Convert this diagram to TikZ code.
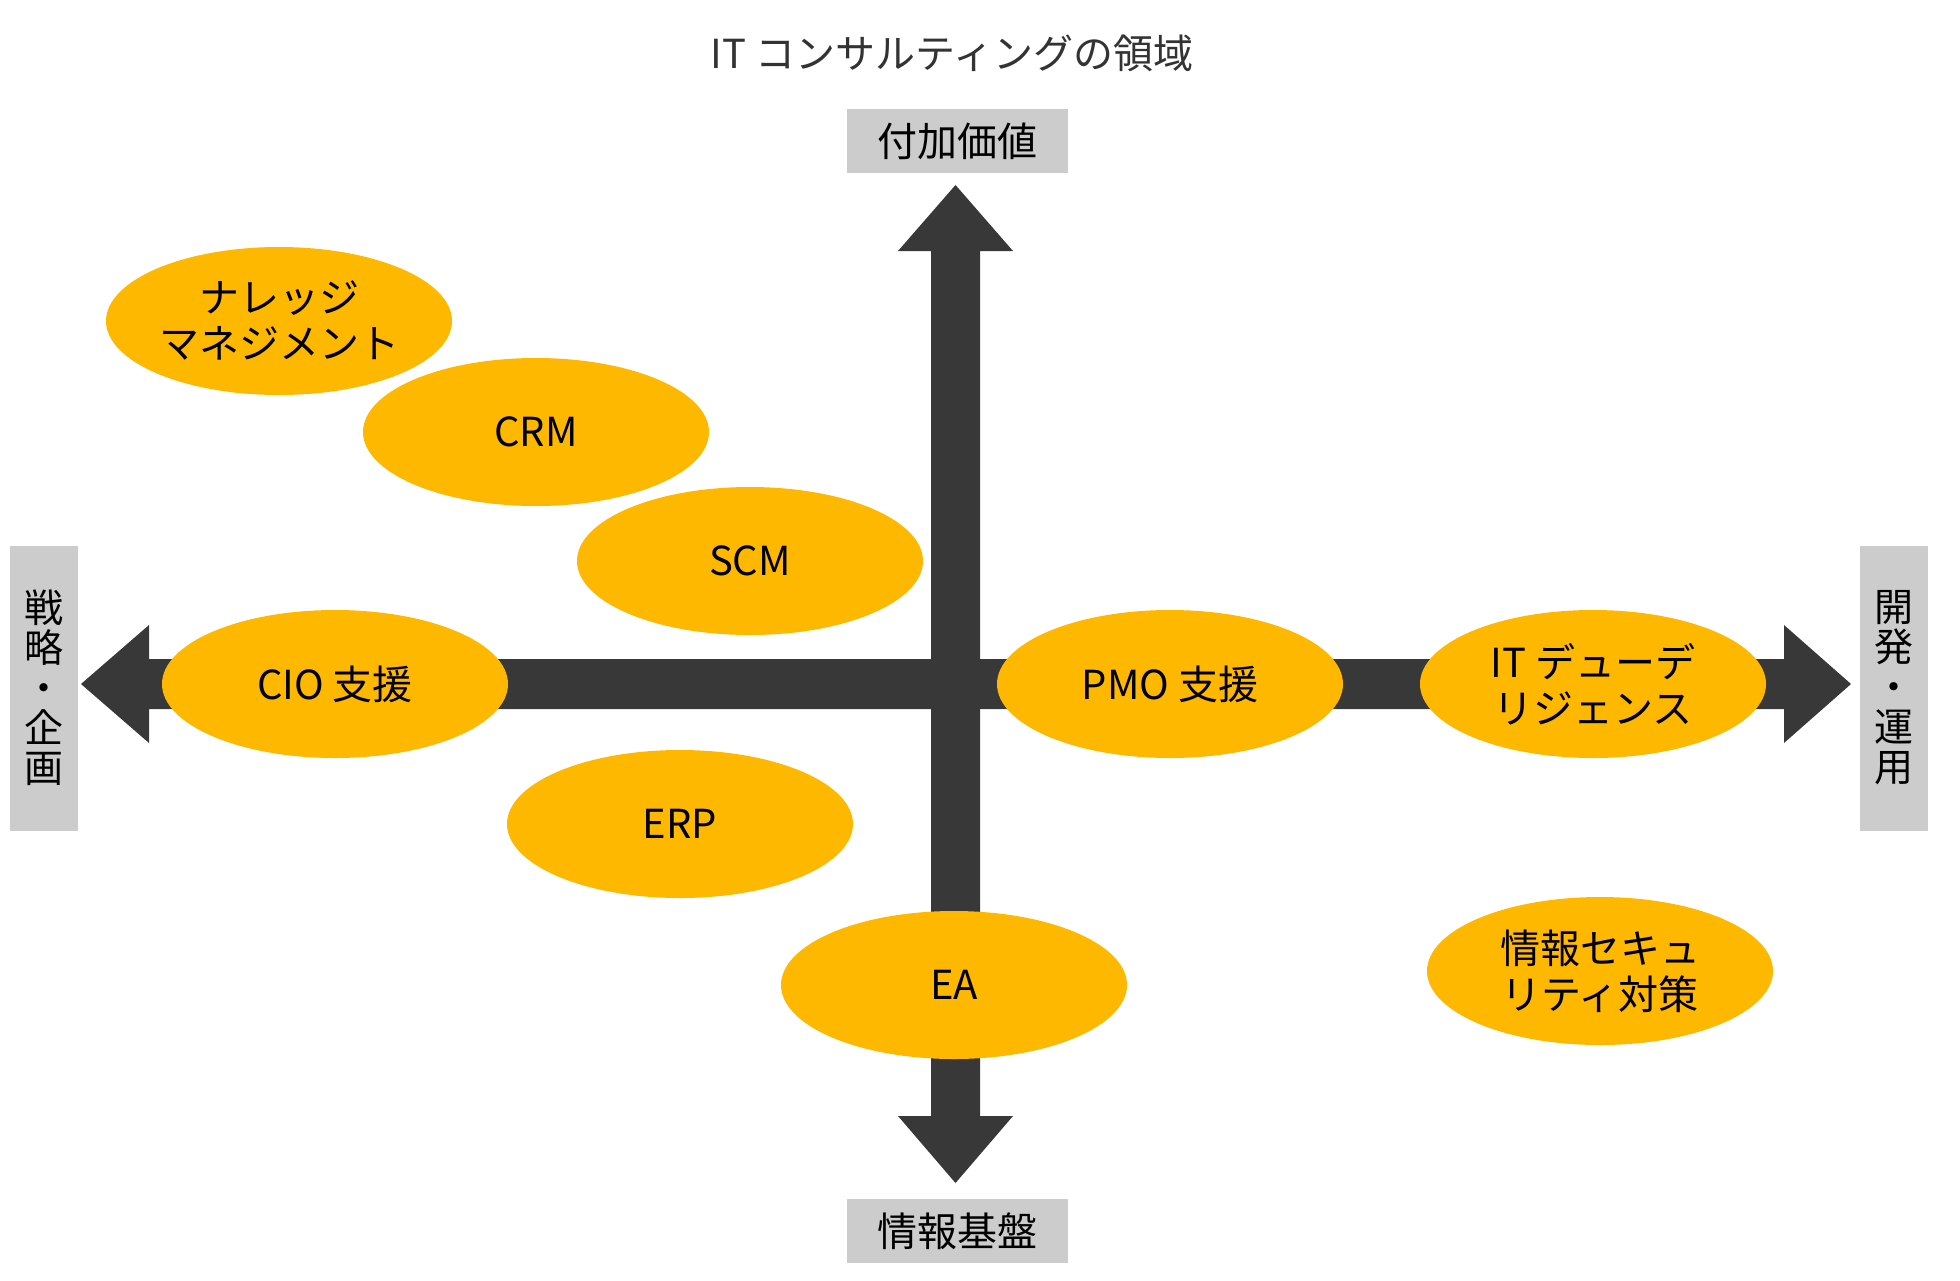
\documentclass[tikz,border=0pt]{standalone}
\usepackage{fontspec}
\setmainfont{Noto Sans CJK JP}
\definecolor{bubble}{HTML}{FFB800}
\definecolor{arrowc}{HTML}{383838}
\definecolor{boxc}{HTML}{CCCCCC}
\definecolor{titlec}{HTML}{333333}
\begin{document}
\begin{tikzpicture}[x=0.5pt,y=-0.5pt,
  bub/.style={ellipse,fill=bubble,minimum width=173pt,minimum height=74pt,inner sep=0pt,font=\fontsize{20pt}{23pt}\selectfont,align=center,text=black},
  hbox/.style={fill=boxc,minimum width=110.5pt,minimum height=32pt,inner sep=0pt,font=\fontsize{20pt}{22pt}\selectfont,text=black},
  vbox/.style={fill=boxc,minimum width=34pt,minimum height=142.5pt,inner sep=0pt,font=\fontsize{19.5pt}{20pt}\selectfont,align=center,text=black},
  bigarrow/.style={fill=arrowc}]
\usetikzlibrary{shapes.geometric}
\useasboundingbox (0,0) rectangle (1960,1280);
% title
\node[font=\fontsize{20pt}{24pt}\selectfont,text=titlec] (title) at (952,53) {IT コンサルティングの領域};
% axis boxes
\node[hbox] (top) at (957,141) {付加価値};
\node[hbox] (bottom) at (957,1231) {情報基盤};
\node[vbox] (left) at (44,688) {戦\\略\\・\\企\\画};
\node[vbox] (right) at (1894,688) {開\\発\\・\\運\\用};
% vertical arrow
\fill[bigarrow] (955.5,185) -- (1013,251) -- (980,251) -- (980,1116) -- (1013,1116)
  -- (955.5,1183) -- (898,1116) -- (931,1116) -- (931,251) -- (898,251) -- cycle;
% horizontal arrow
\fill[bigarrow] (81,684) -- (149,625) -- (149,659) -- (1784,659) -- (1784,625)
  -- (1851,684) -- (1784,743) -- (1784,709) -- (149,709) -- (149,743) -- cycle;
% bubbles
\node[bub] (km) at (279,321) {ナレッジ\\マネジメント};
\node[bub] (crm) at (536,432) {CRM};
\node[bub] (scm) at (750,561) {SCM};
\node[bub] (cio) at (335,684) {CIO 支援};
\node[bub] (pmo) at (1170,684) {PMO 支援};
\node[bub] (itdd) at (1593,684) {IT デューデ\\リジェンス};
\node[bub] (erp) at (680,824) {ERP};
\node[bub] (ea) at (954,985) {EA};
\node[bub] (sec) at (1600,971) {情報セキュ\\リティ対策};
\end{tikzpicture}
\end{document}
